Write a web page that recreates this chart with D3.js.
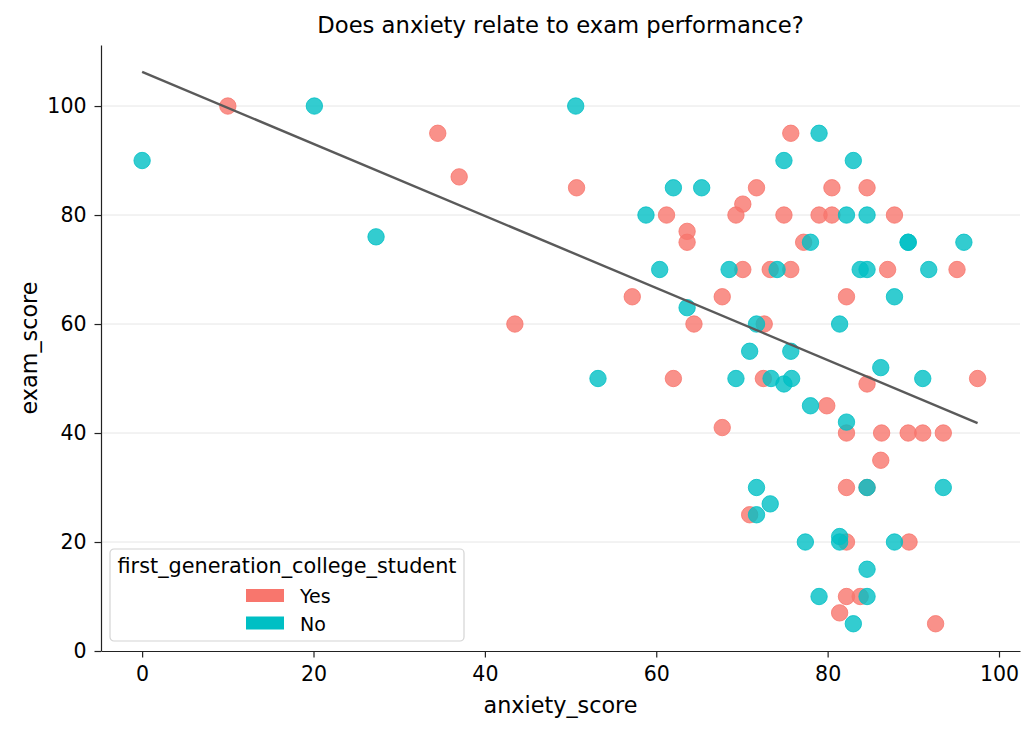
<!DOCTYPE html>
<html>
<head>
<meta charset="utf-8">
<script src="https://cdn.jsdelivr.net/npm/d3@7"></script>
<style>
  body { margin: 0; background: #fff; }
  text { font-family: "DejaVu Sans", sans-serif; fill: #000; }
</style>
</head>
<body>
<div id="chart"></div>
<script>
// first_generation_college_student = Yes
const yesAnxiety = [10.0, 34.5, 37.0, 43.5, 50.7, 57.2, 61.2, 62.0, 63.6, 63.6, 64.4, 67.7, 67.7, 69.3, 70.1, 70.1, 70.9, 71.7, 72.6, 72.5,
  73.3, 74.9, 75.7, 75.7, 77.2, 79.0, 79.9, 80.5, 80.5, 81.4, 82.2, 82.2, 82.2, 82.2, 82.2, 83.8, 84.6, 84.6, 84.6, 86.2,
  86.3, 87.0, 87.8, 89.4, 89.5, 91.1, 92.6, 93.5, 95.1, 97.5];
const yesExam = [100, 95, 87, 60, 85, 65, 80, 50, 77, 75, 60, 65, 41, 80, 82, 70, 25, 85, 60, 50,
  70, 80, 95, 70, 75, 80, 45, 85, 80, 7, 65, 40, 30, 20, 10, 10, 85, 49, 30, 35,
  40, 70, 80, 40, 20, 40, 5, 40, 70, 50];

// first_generation_college_student = No
const noAnxiety = [0, 20.1, 27.3, 50.6, 53.2, 58.8, 60.4, 62.0, 63.6, 65.3, 68.5, 69.3, 70.9, 71.7, 71.7, 71.7, 73.3, 73.4, 74.1, 74.9,
  74.9, 75.8, 75.7, 77.4, 78.0, 78.0, 79.0, 79.0, 81.4, 81.4, 81.4, 82.2, 82.2, 83.0, 83.0, 83.8, 84.6, 84.6, 84.6, 84.6,
  84.6, 86.2, 87.8, 87.8, 89.4, 89.4, 91.1, 91.8, 93.5, 95.9];
const noExam = [90, 100, 76, 100, 50, 80, 70, 85, 63, 85, 70, 50, 55, 60, 30, 25, 27, 50, 70, 90,
  49, 50, 55, 20, 75, 45, 95, 10, 60, 21, 20, 80, 42, 90, 5, 70, 80, 70, 30, 15,
  10, 52, 65, 20, 75, 75, 50, 70, 30, 75];

const groups = ["Yes", "No"];
const groupColors = ["#F8766D", "#00BFC4"];
const xTicks = [0, 20, 40, 60, 80, 100];
const yTicks = [0, 20, 40, 60, 80, 100];

const points = [];
yesAnxiety.forEach((a, i) => points.push({ x: a, y: yesExam[i], g: "Yes" }));
noAnxiety.forEach((a, i) => points.push({ x: a, y: noExam[i], g: "No" }));

const width = 1034, height = 732;
const margin = { top: 45, right: 14, bottom: 81, left: 101 };
const plotW = width - margin.left - margin.right;
const plotH = height - margin.top - margin.bottom;

const svg = d3.select("#chart").append("svg")
  .attr("width", width)
  .attr("height", height);

const x = d3.scaleLinear().domain([-4.8, 102.45]).range([0, plotW]);
const y = d3.scaleLinear().domain([0, 111.2]).range([plotH, 0]);
const color = d3.scaleOrdinal().domain(groups).range(groupColors);

const g = svg.append("g").attr("transform", "translate(" + margin.left + "," + margin.top + ")");

// horizontal grid
g.append("g")
  .selectAll("line")
  .data(yTicks.filter(d => d > 0))
  .enter().append("line")
    .attr("x1", 0).attr("x2", plotW)
    .attr("y1", d => y(d)).attr("y2", d => y(d))
    .attr("stroke", "#e3e3e3")
    .attr("stroke-width", 0.9);

// points
g.append("g")
  .selectAll("circle")
  .data(points)
  .enter().append("circle")
    .attr("cx", d => x(d.x))
    .attr("cy", d => y(d.y))
    .attr("r", 8.2)
    .attr("fill", d => color(d.g))
    .attr("fill-opacity", 0.8)
    .attr("stroke", d => color(d.g))
    .attr("stroke-opacity", 0.8)
    .attr("stroke-width", 1);

// least squares fit over all points
const mx = d3.mean(points, d => d.x), my = d3.mean(points, d => d.y);
const slope = d3.sum(points, d => (d.x - mx) * (d.y - my)) / d3.sum(points, d => (d.x - mx) ** 2);
const intercept = my - slope * mx;
const xExt = d3.extent(points, d => d.x);
g.append("line")
  .attr("x1", x(xExt[0])).attr("y1", y(intercept + slope * xExt[0]))
  .attr("x2", x(xExt[1])).attr("y2", y(intercept + slope * xExt[1]))
  .attr("stroke", "#5a5a5a")
  .attr("stroke-width", 2.4);

// axes
function styleAxis(layer) {
  layer.selectAll(".domain").attr("stroke", "#222").attr("stroke-width", 1.2);
  layer.selectAll(".tick line").attr("stroke", "#222").attr("stroke-width", 1.2);
  layer.selectAll(".tick text").attr("font-size", 20.5).attr("font-family", "DejaVu Sans").attr("fill", "#000");
}

g.append("g")
  .attr("transform", "translate(0," + plotH + ")")
  .call(d3.axisBottom(x).tickValues(xTicks).tickSize(6.5).tickPadding(9).tickSizeOuter(0))
  .call(styleAxis);

g.append("g")
  .call(d3.axisLeft(y).tickValues(yTicks).tickSize(6.5).tickPadding(8).tickSizeOuter(0))
  .call(styleAxis);

// labels
svg.append("text")
  .attr("x", margin.left + plotW / 2)
  .attr("y", 33)
  .attr("text-anchor", "middle")
  .attr("font-size", 22.7)
  .text("Does anxiety relate to exam performance?");

svg.append("text")
  .attr("x", margin.left + plotW / 2)
  .attr("y", 713)
  .attr("text-anchor", "middle")
  .attr("font-size", 22.3)
  .text("anxiety_score");

svg.append("text")
  .attr("transform", "translate(37," + (margin.top + plotH / 2) + ") rotate(-90)")
  .attr("text-anchor", "middle")
  .attr("font-size", 22.3)
  .text("exam_score");

// legend
const legend = svg.append("g").attr("transform", "translate(110,549)");
legend.append("rect")
  .attr("width", 354).attr("height", 92)
  .attr("rx", 4)
  .attr("fill", "#fff").attr("fill-opacity", 0.8)
  .attr("stroke", "#d4d4d4")
  .attr("stroke-width", 1.2);
legend.append("text")
  .attr("x", 177).attr("y", 24)
  .attr("text-anchor", "middle")
  .attr("font-size", 20.8)
  .text("first_generation_college_student");
const items = legend.selectAll(".item")
  .data(groups)
  .enter().append("g")
    .attr("transform", (d, i) => "translate(136," + (40 + i * 27.5) + ")");
items.append("rect")
  .attr("width", 38).attr("height", 13)
  .attr("fill", d => color(d));
items.append("text")
  .attr("x", 54).attr("y", 14)
  .attr("font-size", 19)
  .text(d => d);
</script>
</body>
</html>
